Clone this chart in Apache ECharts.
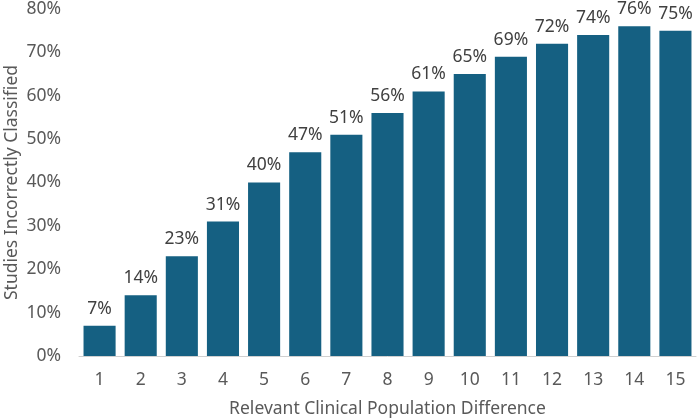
<!DOCTYPE html>
<html><head><meta charset="utf-8">
<script src="https://cdn.jsdelivr.net/npm/echarts@6/dist/echarts.min.js"></script>
<style>html,body{margin:0;padding:0;background:#fff}#c{width:699px;height:420px}</style>
</head><body><div id="c"></div>
<script>
const categories = ['1','2','3','4','5','6','7','8','9','10','11','12','13','14','15'];
const values = [7,14,23,31,40,47,51,56,61,65,69,72,74,76,75];
const xTitle = 'Relevant Clinical Population Difference';
const yTitle = 'Studies Incorrectly Classified';
const font = 'Noto Sans';
const fs = 17.5;
const chart = echarts.init(document.getElementById('c'));
chart.setOption({
  animation: false,
  grid: {left: 79, right: 3, top: 9, bottom: 64, outerBoundsMode: 'none', containLabel: false},
  xAxis: {
    type: 'category', data: categories,
    axisLine: {lineStyle: {color: '#d0d0d0', width: 1}},
    axisTick: {show: false},
    axisLabel: {color: '#595959', fontSize: fs, fontFamily: font, margin: 15},
    name: xTitle, nameLocation: 'middle', nameGap: 44, nameMoveOverlap: false,
    nameTextStyle: {color: '#595959', fontSize: fs, fontFamily: font}
  },
  yAxis: {
    type: 'value', min: 0, max: 80, interval: 10,
    splitLine: {show: false},
    axisLine: {show: false}, axisTick: {show: false},
    axisLabel: {color: '#595959', fontSize: fs, fontFamily: font, margin: 18, formatter: '{value}%'},
    name: yTitle, nameLocation: 'middle', nameGap: 58, nameMoveOverlap: false,
    nameTextStyle: {color: '#595959', fontSize: fs, fontFamily: font}
  },
  series: [{
    type: 'bar', data: values, barCategoryGap: '22%',
    itemStyle: {color: '#156082'},
    label: {show: true, position: 'top', distance: 8, color: '#404040', fontSize: fs, fontFamily: font, formatter: '{c}%'}
  }]
});
</script></body></html>
